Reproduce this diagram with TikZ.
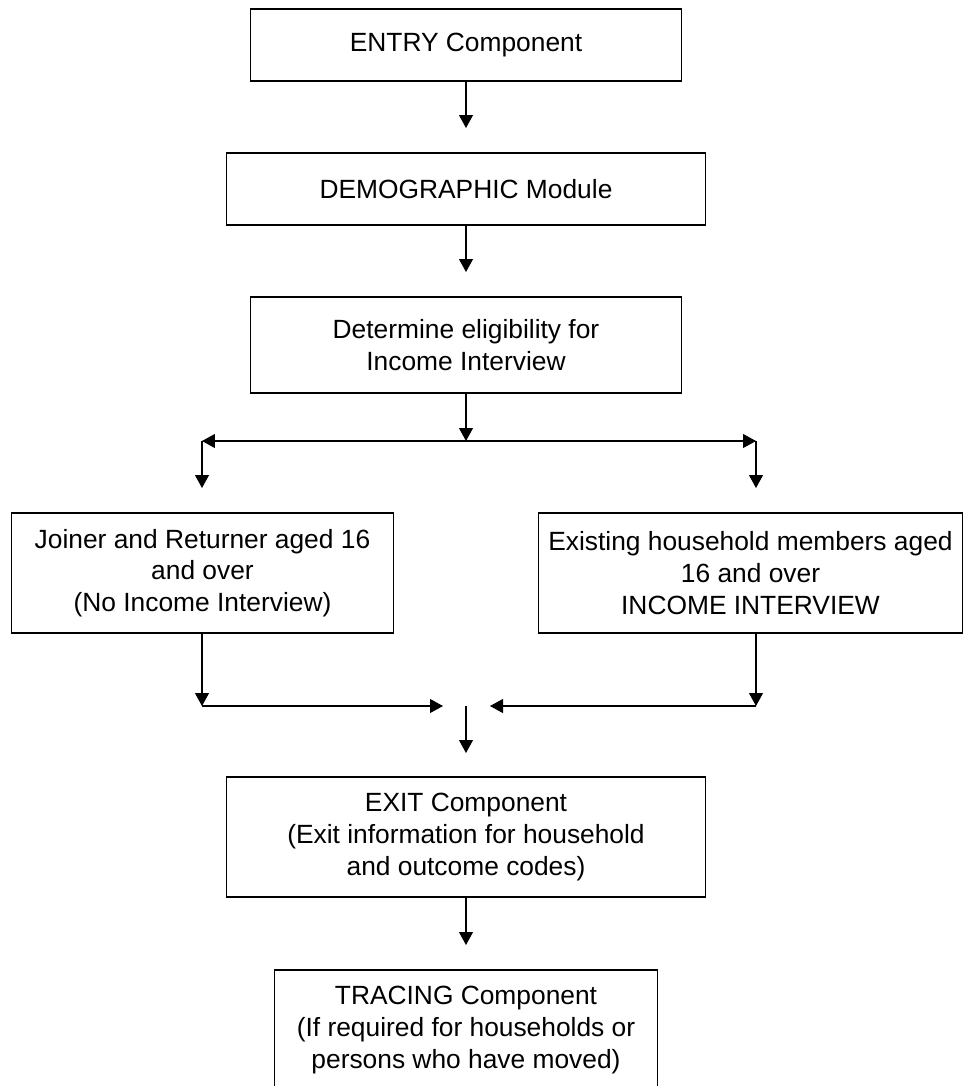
\documentclass[tikz,border=0pt]{standalone}
\usepackage{fontspec}
\setmainfont{Liberation Sans}
\usetikzlibrary{arrows.meta}

\begin{document}
\begin{tikzpicture}[x=0.02cm, y=-0.02cm, line width=0.6pt,
        >={Triangle[width=0.28cm, length=0.26cm]},
        box/.style={draw, align=center, inner sep=0pt,
          font=\fontsize{15}{18}\selectfont}]
        \useasboundingbox (0, 0) rectangle (964, 1086);
        \clip (0, 0) rectangle (964, 1086);

        % entry and demographic
        \node [box, minimum width=8.64cm, minimum height=1.44cm] (entry) at (466, 45)
          {ENTRY Component};
        \node [box, minimum width=9.6cm, minimum height=1.44cm] (demo) at (466, 189)
          {DEMOGRAPHIC Module};

        % eligibility
        \node [box, minimum width=8.62cm, minimum height=1.92cm] (elig) at (466, 345)
          {Determine eligibility for\\Income Interview};

        % the two groups
        \node [box, minimum width=7.66cm, minimum height=2.4cm] (joiner) at (202.5, 573)
          {Joiner and Returner aged 16\\and over\\(No Income Interview)};
        \node [box, minimum width=8.5cm, minimum height=2.4cm] (existing) at (750.5, 573)
          {Existing household members aged\\16 and over\\INCOME INTERVIEW};

        % exit and tracing
        \node [box, minimum width=9.6cm, minimum height=2.4cm] (exit) at (466, 837)
          {EXIT Component\\(Exit information for household\\and outcome codes)};
        \node [box, minimum width=7.68cm, minimum height=2.4cm] (tracing) at (466, 1030)
          {TRACING Component\\(If required for households or\\persons who have moved)};

        % arrow ends
        \coordinate (toDemo) at (466, 128);
        \coordinate (toElig) at (466, 272);
        \coordinate (split) at (466, 441);
        \coordinate (splitL) at (202, 441);
        \coordinate (splitR) at (756, 441);
        \coordinate (toJoiner) at (202, 488);
        \coordinate (toExisting) at (756, 488);
        \coordinate (mergeL) at (202, 706);
        \coordinate (mergeR) at (756, 706);
        \coordinate (intoL) at (443, 706);
        \coordinate (intoR) at (490, 706);
        \coordinate (merge) at (466, 706);
        \coordinate (toExit) at (466, 753);
        \coordinate (toTracing) at (466, 945);

        % arrows
        \draw [->] (entry.south) -- (toDemo);
        \draw [->] (demo.south) -- (toElig);
        \draw [->] (elig.south) -- (split);
        \draw [<->] (splitL) -- (splitR);
        \draw [->] (splitL) -- (toJoiner);
        \draw [->] (splitR) -- (toExisting);

        \draw [->] (joiner.south -| mergeL) -- (mergeL);
        \draw [->] (existing.south -| mergeR) -- (mergeR);
        \draw [->] (mergeL) -- (intoL);
        \draw [->] (mergeR) -- (intoR);
        \draw [->] (merge) -- (toExit);
        \draw [->] (exit.south) -- (toTracing);

      \end{tikzpicture}
\end{document}
